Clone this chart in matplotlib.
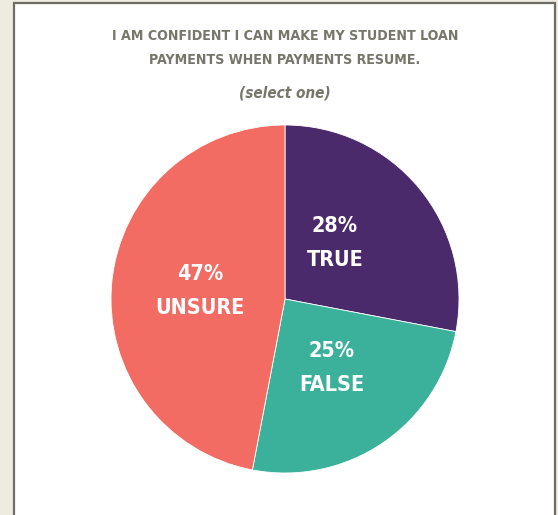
import numpy as np
import matplotlib.pyplot as plt
from matplotlib.patches import Rectangle

# survey answers, clockwise from 12 o'clock
answers = ['TRUE', 'FALSE', 'UNSURE']
shares = [28, 25, 47]
colors = ['#4b2a6c', '#3bb09b', '#f26c63']

title = 'I AM CONFIDENT I CAN MAKE MY STUDENT LOAN\nPAYMENTS WHEN PAYMENTS RESUME.'
subtitle = '(select one)'

FONT = ['DejaVu Sans']
W, H = 558, 515

fig = plt.figure(figsize=(W / 100, H / 100), dpi=100)
fig.patch.set_facecolor('#eeebe0')

# white panel with grey frame (runs off the bottom edge)
fig.patches.append(Rectangle((14 / W, -0.05), 541 / W, (H - 3) / H + 0.05,
                             transform=fig.transFigure, facecolor='white',
                             edgecolor='#6d6d63', linewidth=1.6, zorder=-10))

fig.text(285 / W, 1 - 48 / H, title, ha='center', va='center', family=FONT,
         fontweight='bold', fontstretch='condensed', fontsize=10.2,
         color='#77766b', linespacing=2.0)
fig.text(285 / W, 1 - 93 / H, subtitle, ha='center', va='center', family=FONT,
         fontweight='bold', fontstretch='condensed', style='italic',
         fontsize=11, color='#77766b')

# pie: center (285, 299) px, radius 174 px
cx, cy, r = 285, 299, 174
ax = fig.add_axes([(cx - r) / W, (H - cy - r) / H, 2 * r / W, 2 * r / H])
wedges, _ = ax.pie(shares, colors=colors, startangle=90, counterclock=False,
                   radius=1, wedgeprops=dict(linewidth=0.6, edgecolor='white'))
ax.set_xlim(-1, 1)
ax.set_ylim(-1, 1)
ax.set_aspect('equal')
ax.axis('off')

label_dist = [0.45, 0.48, 0.49]
for w, name, val, d in zip(wedges, answers, shares, label_dist):
    ang = np.deg2rad((w.theta1 + w.theta2) / 2)
    x, y = d * np.cos(ang), d * np.sin(ang)
    if name == 'TRUE':
        x -= 0.06
        y += 0.035
    ax.annotate('{}%'.format(val), (x, y), xytext=(0, 12.5), textcoords='offset points',
                ha='center', va='center', family=FONT, fontweight='bold',
                fontstretch='condensed', fontsize=15.5, color='white')
    ax.annotate(name, (x, y), xytext=(0, -12.5), textcoords='offset points',
                ha='center', va='center', family=FONT, fontweight='bold',
                fontstretch='condensed', fontsize=15.5, color='white')

fig.savefig('out.png', dpi=100, facecolor=fig.get_facecolor())
